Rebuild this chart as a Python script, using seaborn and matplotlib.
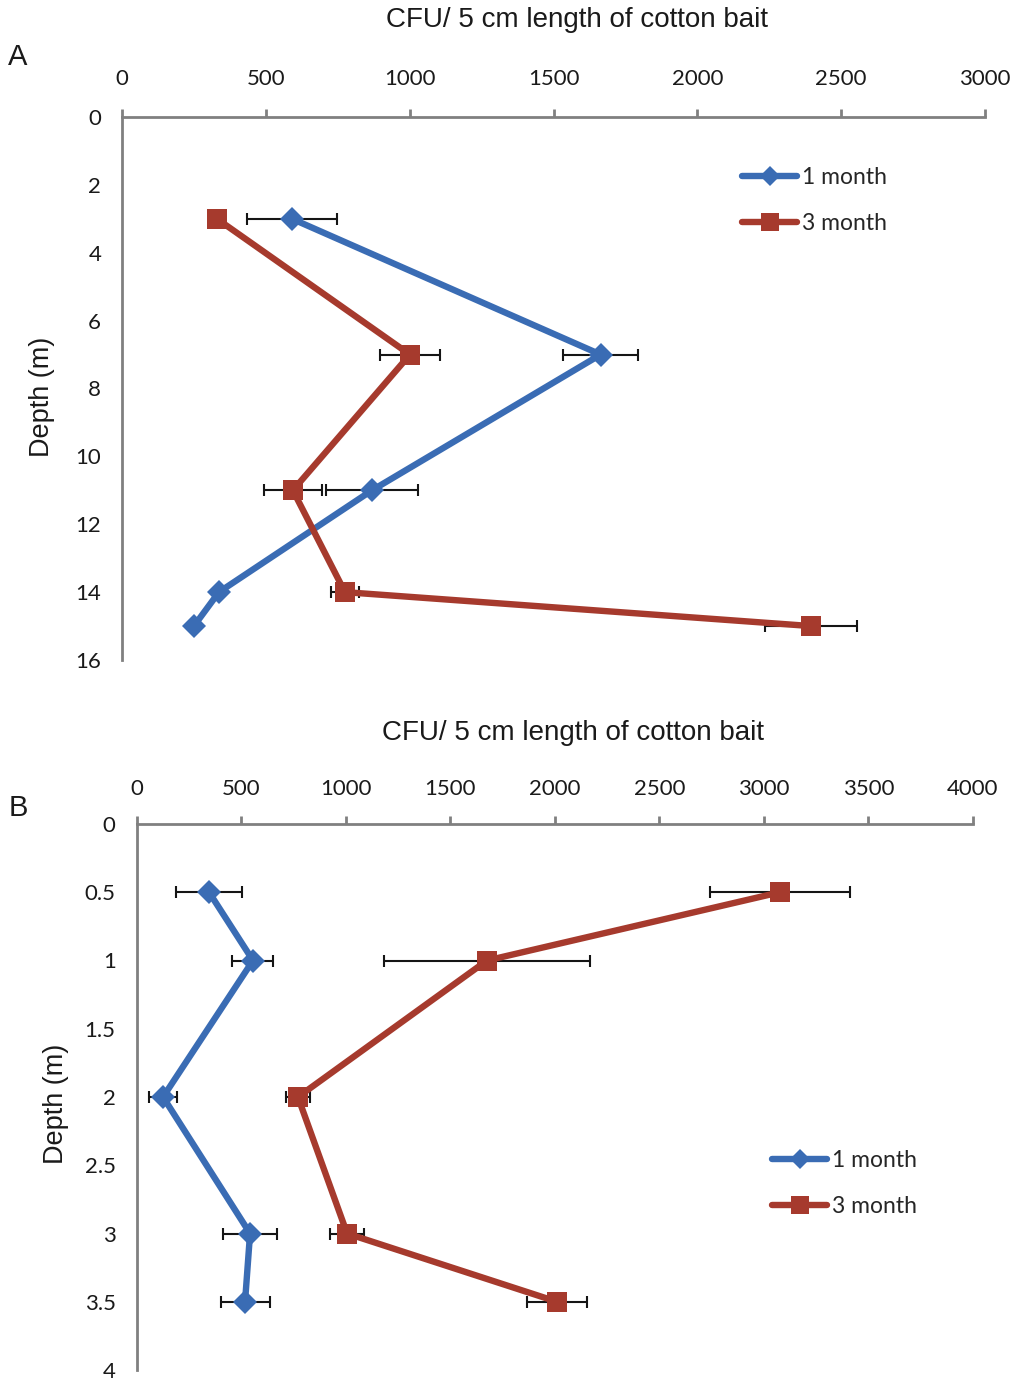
import matplotlib
matplotlib.use("Agg")
import matplotlib.pyplot as plt
import seaborn as sns
import pandas as pd
import numpy as np

# ---- data -----------------------------------------------------------
series_names = ["1 month", "3 month"]

# Panel A: deep profile (m)
depth_a = [3, 7, 11, 14, 15]
cfu_a_1m = [591, 1664, 869, 337, 250]
err_a_1m = [155, 130, 160, 0, 0]
cfu_a_3m = [330, 1001, 594, 775, 2395]
err_a_3m = [0, 105, 100, 50, 160]

# Panel B: shallow profile (m)
depth_b = [0.5, 1, 2, 3, 3.5]
cfu_b_1m = [347, 557, 127, 543, 519]
err_b_1m = [158, 98, 65, 129, 117]
cfu_b_3m = [3077, 1676, 772, 1007, 2011]
err_b_3m = [333, 491, 57, 81, 143]

xticks_a = [0, 500, 1000, 1500, 2000, 2500, 3000]
yticks_a = [0, 2, 4, 6, 8, 10, 12, 14, 16]
xticks_b = [0, 500, 1000, 1500, 2000, 2500, 3000, 3500, 4000]
yticks_b = [0, 0.5, 1, 1.5, 2, 2.5, 3, 3.5, 4]
ytick_labels_b = ["0", "0.5", "1", "1.5", "2", "2.5", "3", "3.5", "4"]

x_title = "CFU/ 5 cm length of cotton bait"
y_title = "Depth (m)"

# ---- style ----------------------------------------------------------
sns.set_theme(style="white")
plt.rcParams["font.family"] = ["Lato", "DejaVu Sans"]

palette = {"1 month": "#3A6CB4", "3 month": "#A63A2D"}
markers = {"1 month": "D", "3 month": "s"}
marker_sizes = {"D": 12.5, "s": 15}
spine_col = "#808080"


def long_frame(depth, v1, e1, v3, e3):
    rows = []
    for name, vals, errs in ((series_names[0], v1, e1), (series_names[1], v3, e3)):
        for d, v, e in zip(depth, vals, errs):
            rows.append({"depth": d, "cfu": v, "err": e, "period": name})
    return pd.DataFrame(rows)


def draw_panel(ax, df, xlim, xticks, ylim, yticks, yticklabels, ypad, xpad):
    # error bars underneath the series lines
    for name in series_names:
        sub = df[df["period"] == name]
        ax.errorbar(sub["cfu"], sub["depth"], xerr=sub["err"], fmt="none",
                    ecolor="#151515", elinewidth=1.5, capsize=4.5,
                    capthick=1.5, zorder=1)
    sns.lineplot(data=df, x="cfu", y="depth", hue="period", style="period",
                 hue_order=series_names, style_order=series_names,
                 palette=palette, markers=markers, dashes=False,
                 sort=False, estimator=None, orient="y",
                 linewidth=4.6, markersize=12, markeredgewidth=0,
                 ax=ax, zorder=3)
    for ln in ax.lines:
        m = ln.get_marker()
        if m in marker_sizes:
            ln.set_markersize(marker_sizes[m])
    ax.set_xlim(*xlim)
    ax.set_ylim(*ylim)
    ax.set_xticks(xticks)
    ax.set_yticks(yticks)
    ax.set_yticklabels(yticklabels)
    ax.xaxis.tick_top()
    ax.set_xlabel("")
    ax.set_ylabel("")
    for side in ("right", "bottom"):
        ax.spines[side].set_visible(False)
    for side in ("top", "left"):
        ax.spines[side].set_color(spine_col)
        ax.spines[side].set_linewidth(2.0)
    ax.tick_params(axis="x", which="both", direction="out", length=6,
                   width=2.0, color=spine_col, labelsize=16, pad=xpad,
                   labelcolor="#1a1a1a")
    ax.tick_params(axis="y", which="both", direction="out", length=7,
                   width=2.0, color=spine_col, labelsize=16, pad=ypad,
                   labelcolor="#1a1a1a")
    ax.set_facecolor("white")


W, H = 1019, 1381
fig = plt.figure(figsize=(W / 100, H / 100), dpi=100)
fig.patch.set_facecolor("white")


def px_axes(left, top, right, bottom):
    return fig.add_axes([left / W, 1 - bottom / H, (right - left) / W, (bottom - top) / H])


ax_a = px_axes(122, 117, 985, 660)
ax_b = px_axes(136.5, 824, 973, 1370)

df_a = long_frame(depth_a, cfu_a_1m, err_a_1m, cfu_a_3m, err_a_3m)
df_b = long_frame(depth_b, cfu_b_1m, err_b_1m, cfu_b_3m, err_b_3m)

draw_panel(ax_a, df_a, (0, 3000), xticks_a, (16, 0), yticks_a,
           [str(t) for t in yticks_a], ypad=8, xpad=14)
draw_panel(ax_b, df_b, (0, 4000), xticks_b, (4, 0), yticks_b,
           ytick_labels_b, ypad=8, xpad=12)

# legends
for ax, anchor in ((ax_a, (742, 167)), (ax_b, (772, 1150))):
    handles, labels = ax.get_legend_handles_labels()
    for h in handles:
        m = h.get_marker()
        if m in marker_sizes:
            h.set_markersize(marker_sizes[m] * 0.85)
    ax.legend(handles, labels, loc="upper left",
              bbox_to_anchor=(anchor[0] / W, 1 - anchor[1] / H),
              bbox_transform=fig.transFigure, frameon=False,
              fontsize=16.5, handlelength=2.4, handletextpad=0.2,
              labelspacing=1.1, borderaxespad=0, borderpad=0)

# axis titles and panel letters
title_font = dict(family=["Liberation Sans", "DejaVu Sans"], color="#1a1a1a")
fig.text(577 / W, 1 - 20 / H, x_title, ha="center", va="center", fontsize=20, **title_font)
fig.text(573 / W, 1 - 733 / H, x_title, ha="center", va="center", fontsize=20, **title_font)
fig.text(42 / W, 1 - 397 / H, y_title, ha="center", va="center", rotation=90, fontsize=19.5, **title_font)
fig.text(56 / W, 1 - 1104 / H, y_title, ha="center", va="center", rotation=90, fontsize=19.5, **title_font)
fig.text(18 / W, 1 - 57 / H, "A", ha="center", va="center", fontsize=21, **title_font)
fig.text(18 / W, 1 - 808 / H, "B", ha="center", va="center", fontsize=21, **title_font)

fig.savefig("out.png", dpi=100, facecolor="white")
